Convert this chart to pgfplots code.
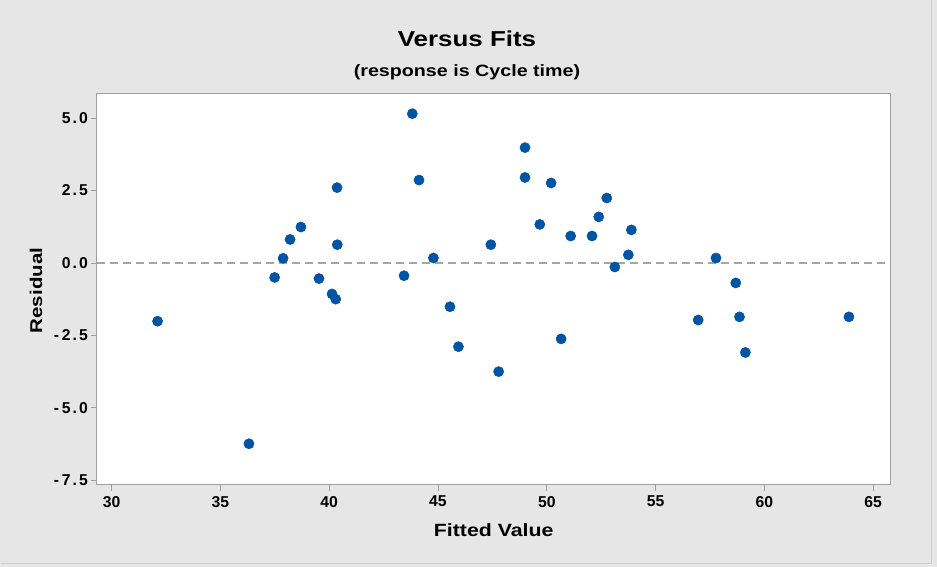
\documentclass[border=0pt]{standalone}
\usepackage{pgfplots}
\pgfplotsset{compat=1.18}
\usepackage{fontspec}
\setmainfont{Liberation Sans}[FakeStretch=1.2]
\newfontfamily\tickfont{Liberation Sans}
\definecolor{bgc}{RGB}{230,230,230}
\definecolor{framec}{RGB}{160,160,160}
\definecolor{ptc}{RGB}{0,84,164}
\definecolor{dashc}{RGB}{165,165,165}
\newcommand{\dd}[2]{#1\kern1.6pt.\kern1.6pt#2}
\begin{document}
\begin{tikzpicture}[x=0.75pt,y=0.75pt]
\fill[bgc] (0,0) rectangle (937,566);
\draw[line width=0.75pt, draw={rgb,255:red,205;green,205;blue,205}] (0.5,3.3) -- (931.7,3.3) -- (931.7,566);
\begin{axis}[
  at={(72.5pt,61.3pt)}, anchor=south west,
  width=595.5pt, height=293.25pt, scale only axis,
  xmin=29.31, xmax=65.81, ymin=-7.655, ymax=5.838,
  axis background/.style={fill=white},
  axis line style={draw=framec, line width=0.8pt},
  xtick={30,35,...,65},
  ytick={-7.5,-5,-2.5,0,2.5,5},
  yticklabels={{-\kern2pt\dd{7}{5}},{-\kern2pt\dd{5}{0}},{-\kern2pt\dd{2}{5}},{\dd{0}{0}},{\dd{2}{5}},{\dd{5}{0}}},
  tick align=outside, major tick length=4.5pt,
  tick style={draw=framec, line width=0.6pt},
  xtick pos=bottom, ytick pos=left,
  /pgf/number format/assume math mode=true,
  ticklabel style={font=\tickfont\fontsize{11.8}{13}\selectfont\bfseries},
  xticklabel style={/pgf/number format/.cd, fixed, precision=0},
  yticklabel shift=-1.5pt, xticklabel shift=0.5pt,
  clip=false,
]
\addplot[dashc, line width=0.9pt, dash pattern=on 6pt off 3.75pt] coordinates {(29.31,0) (65.81,0)};
\addplot[only marks, mark=*, mark size=3.8pt, mark options={fill=ptc, draw=ptc}] coordinates {
(32.11,-2.01) (36.31,-6.24) (37.49,-0.50) (37.88,0.16) (38.20,0.81)
(38.70,1.24) (39.53,-0.54) (40.13,-1.07) (40.30,-1.25) (40.36,2.60)
(40.37,0.63) (43.44,-0.44) (43.82,5.15) (44.13,2.86) (44.79,0.17)
(45.55,-1.51) (45.94,-2.89) (47.43,0.63) (47.79,-3.75) (49.00,3.98)
(49.00,2.95) (49.68,1.33) (50.20,2.76) (50.66,-2.62) (51.10,0.93)
(52.08,0.93) (52.39,1.59) (52.76,2.24) (53.13,-0.14) (53.75,0.28)
(53.89,1.14) (56.96,-1.97) (57.78,0.17) (58.69,-0.69) (58.86,-1.86)
(59.13,-3.09) (63.89,-1.86)
};
\end{axis}
\node[font=\fontsize{16.2}{19}\selectfont\bfseries] at (467,528) {Versus Fits};
\node[font=\fontsize{12.3}{14}\selectfont\bfseries] at (467,494) {(response is Cycle time)};
\node[font=\fontsize{13.3}{15}\selectfont\bfseries] at (493.7,36) {Fitted Value};
\node[font=\fontsize{12.8}{15}\selectfont\bfseries, rotate=90] at (36,276) {Residual};
\end{tikzpicture}
\end{document}
